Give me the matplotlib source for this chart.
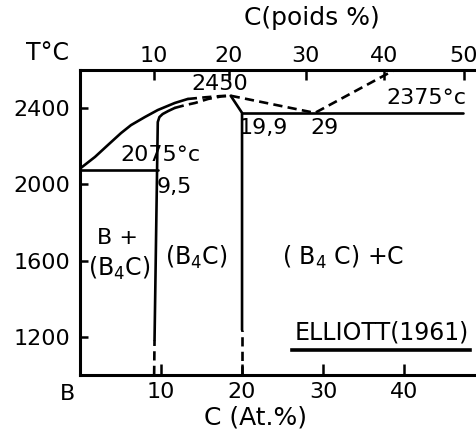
import numpy as np
import matplotlib
matplotlib.use('Agg')
import matplotlib.pyplot as plt

# =========================== DATA (x: C at.%, y: T degC) ===================
# liquidus from the B side (solid part, then the uncertain dashed part)
liq_solid_x = [0.0, 0.1, 1.85, 3.46, 5.06, 6.3, 8.0, 9.6, 11.7, 13.3]
liq_solid_t = [2075, 2086, 2144, 2207, 2269, 2311, 2353, 2390, 2427, 2448]
liq_dash_x = [13.3, 15.5, 17.3, 18.6]
liq_dash_t = [2448, 2457, 2463, 2465]

# B-rich boundary of the B4C field
b4c_left_x = [9.2, 9.6, 9.8, 10.2, 10.9, 11.7]
b4c_left_t = [1183, 2327, 2353, 2369, 2385, 2401]
b4c_left_dash_x = [11.7, 13.0, 14.2, 15.8, 17.5, 18.6]
b4c_left_dash_t = [2401, 2416, 2427, 2448, 2462, 2465]
b4c_left_low_x = [9.15, 9.2]
b4c_left_low_t = [1000, 1183]

# C-rich boundary of the B4C field
b4c_right_x = [18.6, 20.0, 20.0]
b4c_right_t = [2465, 2375, 1236]
b4c_right_low_x = [20.0, 20.0]
b4c_right_low_t = [1000, 1236]

# liquidus on the C side (dashed)
liq_c_x = [18.6, 29.0, 38.8]
liq_c_t = [2465, 2375, 2600]

# eutectic lines
eut_b_x = [0.0, 9.6]
eut_b_t = [2075, 2075]
eut_c_x = [20.0, 47.3]
eut_c_t = [2375, 2375]

t_ticks = [1200, 1600, 2000, 2400]
at_ticks = [10, 20, 30, 40]
wt_ticks = [10, 20, 30, 40, 50]

M_B, M_C = 10.81, 12.011


def at_to_wt(a):
    a = np.asarray(a, dtype=float)
    with np.errstate(divide='ignore', invalid='ignore'):
        return 100 * M_C * a / (M_C * a + M_B * (100 - a))


def wt_to_at(w):
    w = np.asarray(w, dtype=float)
    with np.errstate(divide='ignore', invalid='ignore'):
        return 100 * (w / M_C) / (w / M_C + (100 - w) / M_B)


# =========================== PLOT =========================================
plt.rcParams['font.family'] = 'DejaVu Sans'
FS = 16
LW = 1.9
dash = (0, (3.5, 2))

fig = plt.figure(figsize=(4.77, 4.37), dpi=100)
ax = fig.add_axes([80 / 477, 1 - 375 / 437, 397 / 477, 305 / 437])
ax.set_xlim(0, 49.0)
ax.set_ylim(1000, 2600)

k = dict(color='black', lw=LW, solid_capstyle='round', solid_joinstyle='round')
ax.plot(liq_solid_x, liq_solid_t, **k)
ax.plot(liq_dash_x, liq_dash_t, ls=dash, **k)
ax.plot(b4c_left_x, b4c_left_t, **k)
ax.plot(b4c_left_dash_x, b4c_left_dash_t, ls=dash, **k)
ax.plot(b4c_left_low_x, b4c_left_low_t, ls=dash, **k)
ax.plot(b4c_right_x, b4c_right_t, **k)
ax.plot(b4c_right_low_x, b4c_right_low_t, ls=dash, **k)
ax.plot(liq_c_x, liq_c_t, ls=dash, **k)
ax.plot(eut_b_x, eut_b_t, **k)
ax.plot(eut_c_x, eut_c_t, **k)

# spines and ticks
ax.spines['right'].set_visible(False)
for s in ['left', 'bottom', 'top']:
    ax.spines[s].set_linewidth(2.2)
ax.set_yticks(t_ticks)
ax.set_xticks(at_ticks)
ax.tick_params(axis='y', direction='in', length=6, width=1.8, pad=7, labelsize=FS)
ax.tick_params(axis='x', direction='in', length=8, width=1.8, pad=5, labelsize=FS)

sec = ax.secondary_xaxis('top', functions=(at_to_wt, wt_to_at))
sec.set_xticks(wt_ticks)
sec.spines['top'].set_visible(False)
sec.tick_params(direction='in', length=7, width=1.8, pad=3, labelsize=FS)

# labels in the diagram
ax.text(17.3, 2527, '2450', fontsize=FS, ha='center', va='center')
ax.text(9.9, 2154, '2075°c', fontsize=FS, ha='center', va='center')
ax.text(11.6, 1986, '9,5', fontsize=FS, ha='center', va='center')
ax.text(22.6, 2296, '19,9', fontsize=FS, ha='center', va='center')
ax.text(30.2, 2296, '29', fontsize=FS, ha='center', va='center')
ax.text(42.8, 2453, '2375°c', fontsize=FS, ha='center', va='center')
ax.text(4.6, 1719, 'B +', fontsize=FS, ha='center', va='center')
ax.text(4.9, 1561, '(B$_4$C)', fontsize=FS + 1, ha='center', va='center')
ax.text(14.4, 1619, '(B$_4$C)', fontsize=FS + 1, ha='center', va='center')
ax.text(32.5, 1619, '( B$_4$ C) +C', fontsize=FS + 1, ha='center', va='center')
ax.text(37.2, 1225, 'ELLIOTT(1961)', fontsize=FS + 1, ha='center', va='center')
ax.plot([26.2, 48.1], [1131, 1131], color='black', lw=2.6)

# labels outside the frame
fig.text(48 / 477, 1 - 53 / 437, 'T°C', fontsize=FS + 1, ha='center', va='center')
fig.text(312 / 477, 1 - 18 / 437, 'C(poids %)', fontsize=FS + 2, ha='center', va='center')
fig.text(256 / 477, 1 - 418 / 437, 'C (At.%)', fontsize=FS + 2, ha='center', va='center')
fig.text(68 / 477, 1 - 394 / 437, 'B', fontsize=FS, ha='center', va='center')

fig.savefig('out.png', dpi=100)
